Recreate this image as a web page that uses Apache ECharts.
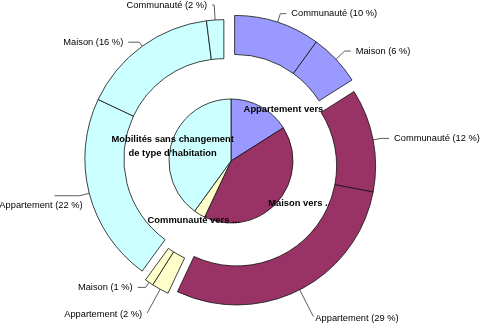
<!DOCTYPE html>
<html><head><meta charset="utf-8">
<script src="https://cdn.jsdelivr.net/npm/echarts@6/dist/echarts.min.js"></script>
<style>html,body{margin:0;padding:0;background:#fff}#c{width:480px;height:324px}</style>
</head><body><div id="c"></div>
<script>
// ---- data ----
const groupNames = ['Appartement vers...', 'Maison vers ...', 'Communauté vers ...', "Mobilités sans changement\nde type d'habitation"];
const groupValues = [16, 41, 3, 40];
const appartementSubNames = ['Communauté', 'Maison'];
const appartementSubValues = [10, 6];
const maisonSubNames = ['Communauté', 'Appartement'];
const maisonSubValues = [12, 29];
const communauteSubNames = ['Appartement', 'Maison'];
const communauteSubValues = [2, 1];
const sansChangementSubNames = ['Appartement', 'Maison', 'Communauté'];
const sansChangementSubValues = [22, 16, 2];

// ---- style / layout ----
const colors = ['#9999ff', '#993366', '#ffffcc', '#ccffff'];
const ringZ = [2, 2, 2, 0];
const CX = 231, CY = 161, R_PIE = 62, R0 = 100, R1 = 139, EXPLODE = 7.5;
const FONT = "'Liberation Sans', Arial, sans-serif";
const innerLabelOffsets = [[40, -22], [44, 20], [-20, 30], [-26, -4]];
// per outer label: [labelLine length, length2, label nudge dx, label nudge dy]
const outerLabelStyle = [
  [[9, 6, 0, 0], [12, 6, 0, 0]],
  [[8, 8, 0, 0], [30, 0, -3, 1.5]],
  [[27, 0, 0, 2], [6, 8, 0, 0]],
  [[10, 25, 33, 10], [5, 11, 0, 0], [15, 2, 0, 0]]
];

const subNames = [appartementSubNames, maisonSubNames, communauteSubNames, sansChangementSubNames];
const subValues = [appartementSubValues, maisonSubValues, communauteSubValues, sansChangementSubValues];
const total = groupValues.reduce((a, b) => a + b, 0);

const series = [];
series.push({
  type: 'pie',
  z: 1,
  center: [CX, CY],
  radius: [0, R_PIE],
  startAngle: 90,
  clockwise: true,
  silent: true,
  itemStyle: { borderColor: '#111', borderWidth: 0.8 },
  label: {
    show: true, position: 'inside', color: '#000', fontFamily: FONT,
    fontWeight: 'bold', fontSize: 9.4, lineHeight: 14, formatter: '{b}'
  },
  labelLine: { show: false },
  emphasis: { disabled: true },
  data: groupNames.map((n, i) => ({
    name: n, value: groupValues[i],
    itemStyle: { color: colors[i] },
    label: { offset: innerLabelOffsets[i] }
  }))
});

let acc = 0;
groupValues.forEach((gv, g) => {
  const start = acc / total * 360;
  acc += gv;
  const end = acc / total * 360;
  const mid = (start + end) / 2 * Math.PI / 180;
  const styles = outerLabelStyle[g];
  series.push({
    type: 'pie',
    z: ringZ[g],
    center: [CX + EXPLODE * Math.sin(mid), CY - EXPLODE * Math.cos(mid)],
    radius: [R0, R1],
    startAngle: 90 - start,
    endAngle: 90 - end,
    clockwise: true,
    silent: true,
    avoidLabelOverlap: false,
    itemStyle: { color: colors[g], borderColor: '#111', borderWidth: 0.8 },
    label: {
      show: true, position: 'outside', color: '#000', fontFamily: FONT,
      fontSize: 9.3, formatter: '{b} ({c} %)'
    },
    labelLine: { show: true, lineStyle: { color: '#333', width: 0.8 } },
    labelLayout: function (p) {
      const s = styles[p.dataIndex];
      if (!s || (!s[2] && !s[3])) return {};
      const r = p.labelRect;
      const ax = p.align === 'right' ? r.x + r.width : (p.align === 'center' ? r.x + r.width / 2 : r.x);
      const ay = r.y + r.height / 2;
      const out = { x: ax + s[2], y: ay + s[3], align: p.align, verticalAlign: 'middle' };
      if (p.labelLinePoints) out.labelLinePoints = p.labelLinePoints;
      return out;
    },
    emphasis: { disabled: true },
    data: subNames[g].map((n, i) => {
      const s = styles[i];
      return {
        name: n, value: subValues[g][i],
        labelLine: { length: s[0], length2: s[1] }
      };
    })
  });
});

const chart = echarts.init(document.getElementById('c'), null, { renderer: 'canvas' });
chart.setOption({ backgroundColor: '#fff', animation: false, series });
</script>
</body></html>
